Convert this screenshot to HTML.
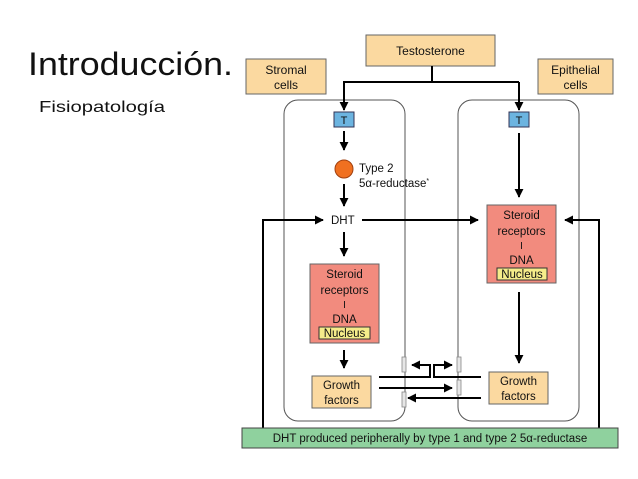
<!DOCTYPE html>
<html><head><meta charset="utf-8"><style>
html,body{margin:0;padding:0;background:#fff;width:638px;height:479px;overflow:hidden}
svg{display:block}
text{font-family:"Liberation Sans",sans-serif;fill:#111}
</style></head><body>
<svg width="638" height="479" viewBox="0 0 638 479" xmlns="http://www.w3.org/2000/svg">
<defs>
<marker id="a" viewBox="0 0 10 10" refX="9" refY="5" markerWidth="4.5" markerHeight="4.5" orient="auto-start-reverse"><path d="M0,0 L10,5 L0,10 z" fill="#000"/></marker>
</defs>
<text x="28" y="75" font-size="32" textLength="205" lengthAdjust="spacingAndGlyphs">Introducción.</text>
<text x="39" y="112" font-size="16" textLength="126" lengthAdjust="spacingAndGlyphs">Fisiopatología</text>

<rect x="284" y="100" width="121" height="321" rx="14" fill="none" stroke="#555" stroke-width="1"/>
<rect x="458" y="100" width="121" height="321" rx="14" fill="none" stroke="#555" stroke-width="1"/>

<rect x="366" y="35" width="129" height="31" fill="#fbd9a0" stroke="#666"/>
<text x="430.5" y="55" font-size="12" text-anchor="middle">Testosterone</text>
<rect x="246" y="59" width="80" height="35" fill="#fbd9a0" stroke="#666"/>
<text x="286" y="74" font-size="12" text-anchor="middle">Stromal</text>
<text x="286" y="89" font-size="12" text-anchor="middle">cells</text>
<rect x="538" y="59" width="75" height="35" fill="#fbd9a0" stroke="#666"/>
<text x="575.5" y="74" font-size="12" text-anchor="middle">Epithelial</text>
<text x="575.5" y="89" font-size="12" text-anchor="middle">cells</text>

<g stroke="#000" stroke-width="2" fill="none">
<path d="M432,66 V82"/>
<path d="M343,82 H519"/>
<path d="M344,82 V110" marker-end="url(#a)"/>
<path d="M519,82 V110" marker-end="url(#a)"/>
<path d="M344,131 V150" marker-end="url(#a)"/>
<path d="M344,184 V206" marker-end="url(#a)"/>
<path d="M362,220 H478" marker-end="url(#a)"/>
<path d="M263,428 V220 H323" marker-end="url(#a)"/>
<path d="M599,428 V220 H565" marker-end="url(#a)"/>
<path d="M344,232 V256" marker-end="url(#a)"/>
<path d="M344,350 V368" marker-end="url(#a)"/>
<path d="M519,133 V197" marker-end="url(#a)"/>
<path d="M519,292 V363" marker-end="url(#a)"/>
<path d="M379,377 H430 V365 H412" marker-end="url(#a)"/>
<path d="M481,377 H434 V365 H452" marker-end="url(#a)"/>
<path d="M379,388 H452" marker-end="url(#a)"/>
<path d="M481,398 H408" marker-end="url(#a)"/>
</g>

<rect x="334" y="112" width="20" height="15" fill="#6cb4e0" stroke="#335"/>
<text x="344" y="124" font-size="11" text-anchor="middle">T</text>
<rect x="509" y="112" width="20" height="15" fill="#6cb4e0" stroke="#335"/>
<text x="519" y="124" font-size="11" text-anchor="middle">T</text>

<circle cx="344" cy="169" r="9" fill="#f07020" stroke="#a04010"/>
<text x="359" y="172" font-size="11.5">Type 2</text>
<text x="359" y="187" font-size="11.5">5α-reductase<tspan font-size="7" dy="-4">*</tspan></text>
<text x="331" y="224" font-size="11.5">DHT</text>

<rect x="310" y="264" width="69" height="79" fill="#f28b7e" stroke="#666"/>
<text x="344.5" y="278" font-size="11.5" text-anchor="middle">Steroid</text>
<text x="344.5" y="294" font-size="11.5" text-anchor="middle">receptors</text>
<text x="344.5" y="308" font-size="10" text-anchor="middle">I</text>
<text x="344.5" y="323" font-size="11.5" text-anchor="middle">DNA</text>
<rect x="319" y="327" width="51" height="12" fill="#f5ec8a" stroke="#333"/>
<text x="344.5" y="337" font-size="11.5" text-anchor="middle">Nucleus</text>

<rect x="487" y="205" width="69" height="78" fill="#f28b7e" stroke="#666"/>
<text x="521.5" y="219" font-size="11.5" text-anchor="middle">Steroid</text>
<text x="521.5" y="235" font-size="11.5" text-anchor="middle">receptors</text>
<text x="521.5" y="249" font-size="10" text-anchor="middle">I</text>
<text x="521.5" y="264" font-size="11.5" text-anchor="middle">DNA</text>
<rect x="497" y="268" width="50" height="12" fill="#f5ec8a" stroke="#333"/>
<text x="522" y="278" font-size="11.5" text-anchor="middle">Nucleus</text>

<rect x="312" y="376" width="59" height="32" fill="#fbd9a0" stroke="#666"/>
<text x="341.5" y="389" font-size="11.5" text-anchor="middle">Growth</text>
<text x="341.5" y="404" font-size="11.5" text-anchor="middle">factors</text>
<rect x="489" y="372" width="59" height="32" fill="#fbd9a0" stroke="#666"/>
<text x="518.5" y="385" font-size="11.5" text-anchor="middle">Growth</text>
<text x="518.5" y="400" font-size="11.5" text-anchor="middle">factors</text>

<g fill="#e6e6e6" stroke="#888" stroke-width="0.8">
<rect x="402" y="357" width="4" height="15"/>
<rect x="402" y="392" width="4" height="15"/>
<rect x="457" y="357" width="4" height="15"/>
<rect x="457" y="380" width="4" height="15"/>
</g>

<rect x="242" y="428" width="376" height="20" fill="#8fd19e" stroke="#444"/>
<text x="430" y="442" font-size="11.5" text-anchor="middle">DHT produced peripherally by type 1 and type 2 5α-reductase</text>
</svg>
</body></html>
